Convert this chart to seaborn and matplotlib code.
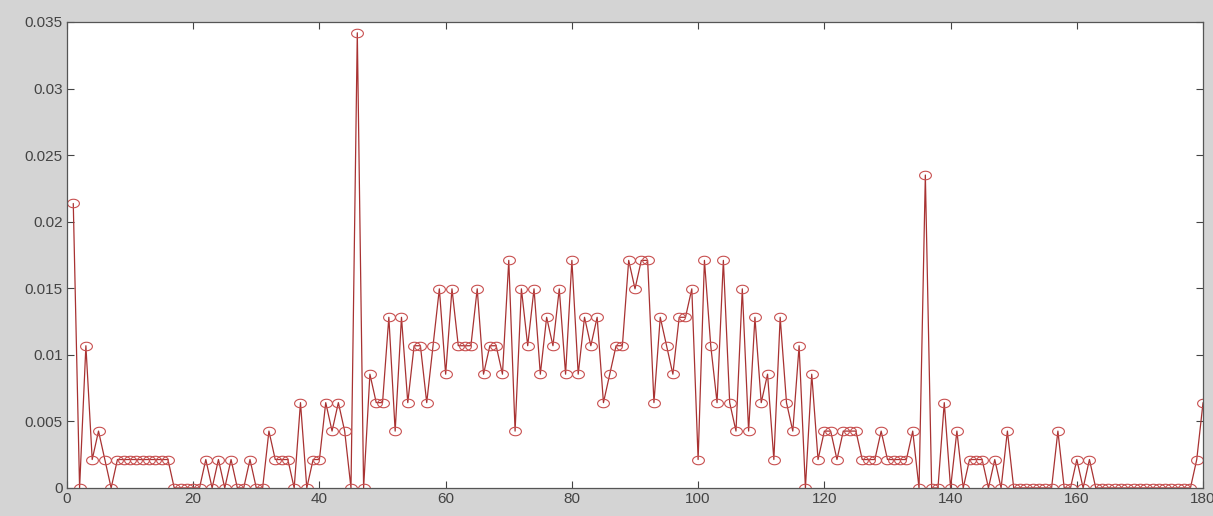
import numpy as np
import pandas as pd
import matplotlib
matplotlib.use("Agg")
import matplotlib.pyplot as plt
from matplotlib.path import Path
import seaborn as sns

# histogram bins (degrees) and counts in units of 1/468
angle = list(range(1, 181))
counts = [10, 0, 5, 1, 2, 1, 0, 1, 1, 1, 1, 1, 1, 1, 1, 1, 0, 0, 0, 0, 0,
          1, 0, 1, 0, 1, 0, 0, 1, 0, 0,
          2, 1, 1, 1, 0, 3, 0, 1, 1,
          3, 2, 3, 2, 0, 16, 0,
          4, 3, 3, 6, 2, 6, 3, 5, 5, 3, 5, 7, 4,
          7, 5, 5, 5, 7, 4, 5, 5, 4, 8,
          2, 7, 5, 7, 4, 6, 5, 7, 4, 8,
          4, 6, 5, 6, 3, 4, 5, 5, 8, 7,
          8, 8, 3, 6, 5, 4, 6, 6, 7, 1,
          8, 5, 3, 8, 3, 2, 7, 2, 6, 3,
          4, 1, 6, 3, 2, 5, 0, 4, 1, 2,
          2, 1, 2, 2, 2, 1, 1, 1, 2, 1,
          1, 1, 1, 2, 0, 11, 0, 0, 3, 0,
          2, 0, 1, 1, 1, 0, 1, 0, 2, 0,
          0, 0, 0, 0, 0, 0, 2, 0, 0, 1,
          0, 1, 0, 0, 0, 0, 0, 0, 0, 0,
          0, 0, 0, 0, 0, 0, 0, 0, 1, 3]
freq = np.array(counts) / 468.0

df = pd.DataFrame({"angle": angle, "freq": freq})

sns.set_style("ticks")
plt.rcParams["font.family"] = ["Liberation Sans", "DejaVu Sans"]

# slightly squashed circle, like the original screenshot
t = np.linspace(0, 2 * np.pi, 40)
ellipse = Path(np.column_stack([np.cos(t), 0.72 * np.sin(t)]), closed=True)

fig = plt.figure(figsize=(12.13, 5.16), dpi=100, facecolor="#d4d4d4")
ax = fig.add_axes([0.0552, 0.0543, 0.9366, 0.9031])
ax.set_facecolor("white")

sns.lineplot(data=df, x="angle", y="freq", ax=ax, color="#a83232", linewidth=0.9,
             marker=ellipse, markersize=8.5, markerfacecolor="none",
             markeredgecolor="#c85050", markeredgewidth=0.8)

ax.set_xlim(0, 180)
ax.set_ylim(0, 0.035)
ax.set_xticks(range(0, 181, 20))
ax.set_yticks([0, 0.005, 0.01, 0.015, 0.02, 0.025, 0.03, 0.035])
ax.set_yticklabels(["0", "0.005", "0.01", "0.015", "0.02", "0.025", "0.03", "0.035"])
ax.set_xlabel("")
ax.set_ylabel("")
ax.tick_params(direction="in", length=5, width=0.8, top=True, right=True,
               labelsize=11, colors="#444444", pad=3)
for s in ax.spines.values():
    s.set_visible(True)
    s.set_color("#555555")
    s.set_linewidth(0.9)

fig.savefig("out.png", dpi=100, facecolor=fig.get_facecolor())
